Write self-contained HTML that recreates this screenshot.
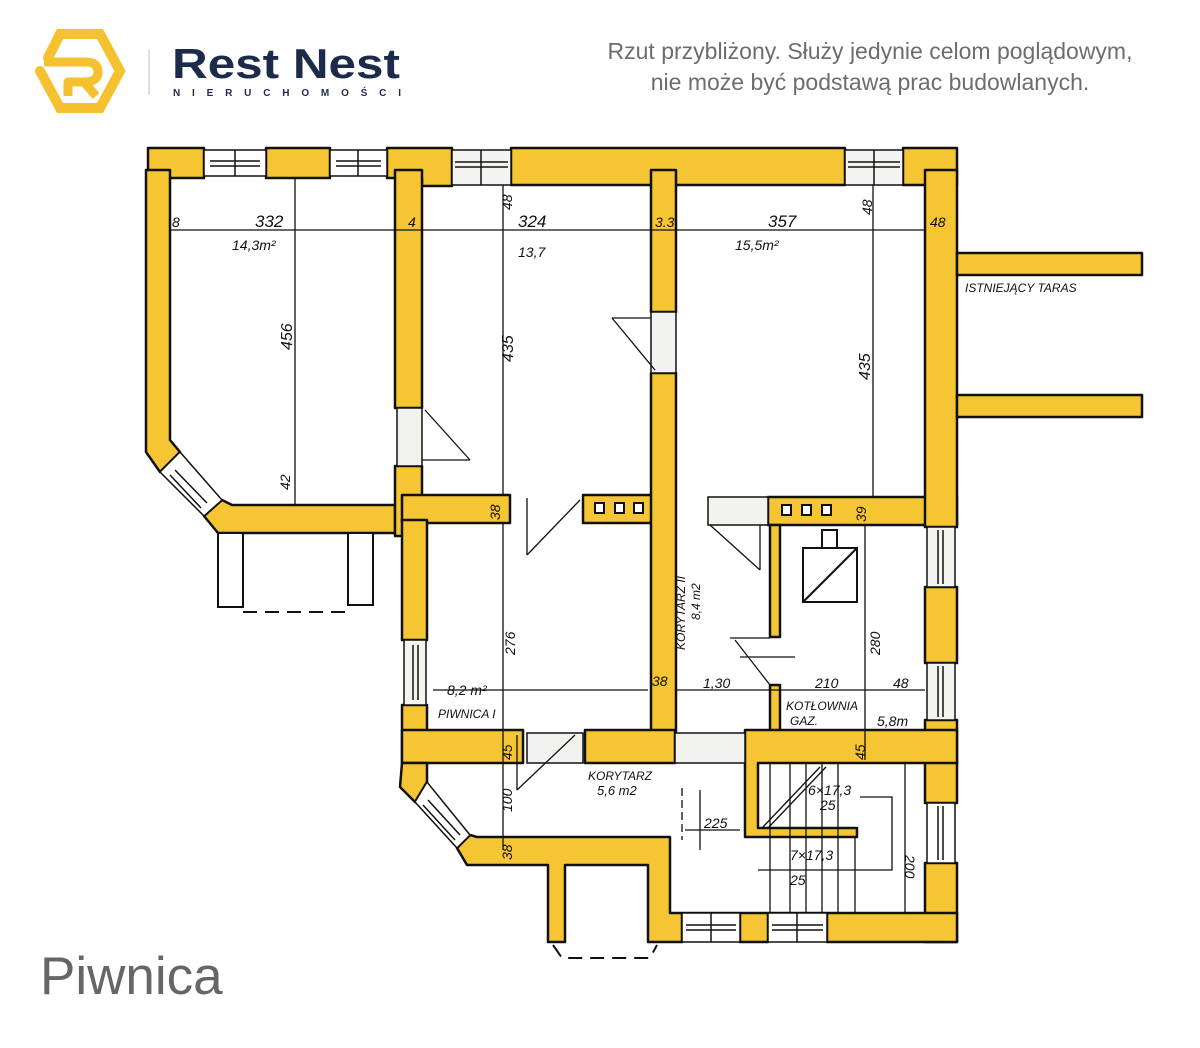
<!DOCTYPE html>
<html><head><meta charset="utf-8">
<style>
html,body{margin:0;padding:0;background:#fff;}
body{width:1200px;height:1048px;position:relative;overflow:hidden;font-family:"Liberation Sans",sans-serif;}
.note{position:absolute;left:560px;top:36px;width:620px;text-align:center;color:#6d6d6d;font-size:23px;line-height:31px;}
.title{position:absolute;left:40px;top:946px;font-size:53px;color:#666;}
</style></head><body>
<div class="note">Rzut przybliżony. Służy jedynie celom poglądowym,<br>nie może być podstawą prac budowlanych.</div>
<div class="title">Piwnica</div>
<svg width="1200" height="1048" style="position:absolute;left:0;top:0" xmlns="http://www.w3.org/2000/svg">
<!-- logo -->
<g fill="none" stroke="#F6C12E" stroke-width="10" stroke-linecap="round">
<polyline points="48,58 60,34 100,34 120,71 100,108 60,108 40,71"/>
</g>
<g fill="none" stroke="#F6C12E" stroke-width="9" stroke-linejoin="round">
<path d="M44,62 H86 Q98,62 98,72 Q98,82 84,82 H68 V96 M84,82 L96,96"/>
</g>
<line x1="149" y1="50" x2="149" y2="95" stroke="#ddd" stroke-width="2"/>
<text x="172" y="78" font-family="Liberation Sans,sans-serif" font-weight="bold" font-size="42" fill="#1D2B4B" textLength="228" lengthAdjust="spacingAndGlyphs">Rest Nest</text>
<text x="173" y="96" font-family="Liberation Sans,sans-serif" font-weight="bold" font-size="10" fill="#1D2B4B" textLength="228">NIERUCHOMOŚCI</text>

<g fill="#F6C533" stroke="#111" stroke-width="2.5" stroke-linejoin="round">
<rect x="148" y="148" width="56" height="30"/>
<rect x="266" y="148" width="64" height="30"/>
<polygon points="387,148 452,148 452,186 422,186 422,178 387,178"/>
<polygon points="511,148 845,148 845,185 511,185"/>
<polygon points="903,148 957,148 957,185 903,185"/>
<polygon points="146,170 170,170 170,440 180,452 160,472 146,452"/>
<polygon points="222,500 232,505 395,505 395,533 218,533 204,516"/>
<rect x="395" y="170" width="27" height="238"/>
<rect x="395" y="466" width="27" height="70"/>
<rect x="402" y="495" width="108" height="28"/>
<rect x="402" y="520" width="25" height="120"/>
<rect x="583" y="495" width="70" height="28"/>
<rect x="651" y="170" width="25" height="142"/>
<rect x="651" y="373" width="25" height="360"/>
<rect x="768" y="497" width="189" height="28"/>
<rect x="925" y="170" width="32" height="357"/>
<rect x="925" y="587" width="32" height="76"/>
<rect x="925" y="720" width="32" height="83"/>
<rect x="925" y="863" width="32" height="79"/>
<rect x="957" y="253" width="185" height="22"/>
<rect x="957" y="395" width="185" height="22"/>
<rect x="402" y="705" width="25" height="58"/>
<rect x="402" y="730" width="121" height="33"/>
<rect x="585" y="730" width="90" height="33"/>
<rect x="770" y="525" width="10" height="112"/>
<rect x="770" y="685" width="10" height="50"/>
<polygon points="745,730 957,730 957,763 758,763 758,828 857,828 857,837 745,837"/>
<polygon points="402,763 427,763 427,782 415,802 400,787"/>
<polygon points="470,835 477,837 670,837 670,913 957,913 957,942 827,942 827,913 768,913 768,942 740,942 740,913 682,913 682,942 648,942 648,865 565,865 565,942 548,942 548,865 467,865 457,848"/>
</g>
<g fill="#fff" stroke="#111" stroke-width="1.5">
<rect x="204" y="150" width="62" height="26"/><line x1="210" y1="161" x2="260" y2="161"/><line x1="210" y1="166" x2="260" y2="166"/><line x1="235" y1="150" x2="235" y2="176"/>
<rect x="330" y="150" width="57" height="26"/><line x1="336" y1="161" x2="381" y2="161"/><line x1="336" y1="166" x2="381" y2="166"/><line x1="358" y1="150" x2="358" y2="176"/>
<rect x="452" y="150" width="59" height="35" fill="#f4f4f0"/><line x1="455" y1="162" x2="508" y2="162"/><line x1="455" y1="167" x2="508" y2="167"/><line x1="481" y1="150" x2="481" y2="185"/>
<rect x="845" y="150" width="58" height="35" fill="#f4f4f0"/><line x1="848" y1="162" x2="900" y2="162"/><line x1="848" y1="167" x2="900" y2="167"/><line x1="874" y1="150" x2="874" y2="185"/>
<polygon points="160,472 180,452 222,500 204,516"/>
<line x1="175" y1="470" x2="207" y2="503"/><line x1="170" y1="475" x2="201" y2="508"/>
<polygon points="415,802 427,782 470,835 457,848"/>
<line x1="428" y1="800" x2="460" y2="835"/><line x1="423" y1="805" x2="455" y2="840"/>
<rect x="927" y="527" width="28" height="60" fill="#f4f4f0"/><line x1="938" y1="530" x2="938" y2="584"/><line x1="943" y1="530" x2="943" y2="584"/>
<rect x="927" y="663" width="28" height="57" fill="#f4f4f0"/><line x1="938" y1="666" x2="938" y2="717"/><line x1="943" y1="666" x2="943" y2="717"/>
<rect x="927" y="803" width="28" height="60"/><line x1="938" y1="806" x2="938" y2="860"/><line x1="943" y1="806" x2="943" y2="860"/>
<rect x="404" y="640" width="22" height="65" fill="#f4f4f0"/><line x1="413" y1="645" x2="413" y2="700"/><line x1="418" y1="645" x2="418" y2="700"/>
<rect x="682" y="913" width="58" height="29"/><line x1="686" y1="925" x2="736" y2="925"/><line x1="686" y1="930" x2="736" y2="930"/><line x1="711" y1="913" x2="711" y2="942"/>
<rect x="768" y="913" width="59" height="29"/><line x1="772" y1="925" x2="823" y2="925"/><line x1="772" y1="930" x2="823" y2="930"/><line x1="797" y1="913" x2="797" y2="942"/>
<rect x="397" y="408" width="25" height="58" fill="#f2f2ee"/>
<rect x="651" y="312" width="25" height="61" fill="#f2f2ee"/>
<rect x="708" y="497" width="60" height="28" fill="#f2f2ee"/>
<rect x="675" y="733" width="70" height="30" fill="#f2f2ee"/>
<rect x="527" y="733" width="56" height="30" fill="#f2f2ee"/>
</g>
<g fill="#fff" stroke="#111" stroke-width="2">
<rect x="218" y="533" width="25" height="74"/>
<rect x="348" y="533" width="25" height="72"/>
</g>
<g fill="none" stroke="#111" stroke-width="2" stroke-dasharray="14,8">
<line x1="243" y1="612" x2="348" y2="612"/>
<polyline points="553,945 562,958 650,958 657,945"/>
</g>
<g fill="#fff" stroke="#111" stroke-width="2">
<rect x="595" y="503" width="9" height="10"/><rect x="615" y="503" width="9" height="10"/><rect x="634" y="503" width="9" height="10"/>
<rect x="782" y="505" width="9" height="10"/><rect x="802" y="505" width="9" height="10"/><rect x="822" y="505" width="9" height="10"/>
<rect x="803" y="548" width="54" height="54"/><line x1="803" y1="602" x2="857" y2="548"/>
<rect x="822" y="530" width="15" height="18"/>
</g>
<g stroke="#111" stroke-width="1.3" fill="none">
<line x1="170" y1="230" x2="925" y2="230"/>
<line x1="295" y1="178" x2="295" y2="505"/>
<line x1="503" y1="185" x2="503" y2="495"/>
<line x1="873" y1="185" x2="873" y2="497"/>
<line x1="503" y1="523" x2="503" y2="850"/>
<line x1="675" y1="690" x2="925" y2="690"/>
<line x1="433" y1="690" x2="648" y2="690"/>
<line x1="865" y1="525" x2="865" y2="760"/>
<line x1="612" y1="318" x2="651" y2="318"/><line x1="612" y1="318" x2="655" y2="370"/>
<line x1="422" y1="460" x2="470" y2="460"/><line x1="425" y1="410" x2="470" y2="460"/>
<line x1="527" y1="498" x2="527" y2="555"/><line x1="527" y1="555" x2="580" y2="500"/>
<line x1="760" y1="525" x2="760" y2="570"/><line x1="710" y1="525" x2="760" y2="570"/>
<line x1="730" y1="638" x2="770" y2="638"/><line x1="735" y1="640" x2="770" y2="685"/><line x1="740" y1="657" x2="795" y2="657"/>
<line x1="517" y1="735" x2="517" y2="790"/><line x1="517" y1="790" x2="575" y2="735"/>
<line x1="682" y1="788" x2="682" y2="840" stroke-dasharray="8,4"/>
<line x1="700" y1="790" x2="700" y2="850"/><line x1="685" y1="830" x2="740" y2="830"/>
<line x1="770" y1="763" x2="770" y2="913"/><line x1="790" y1="763" x2="790" y2="913"/><line x1="806" y1="763" x2="806" y2="913"/><line x1="822" y1="763" x2="822" y2="913"/><line x1="838" y1="763" x2="838" y2="913"/><line x1="855" y1="837" x2="855" y2="913"/><line x1="905" y1="763" x2="905" y2="913"/>
<line x1="762" y1="828" x2="820" y2="767"/><line x1="768" y1="828" x2="826" y2="767"/>
<polyline points="860,797 892,797 892,870 758,870"/>
</g>
<g font-family="Liberation Sans,sans-serif" font-style="italic" font-size="14" fill="#111">
<text x="172" y="227">8</text><text x="255" y="227" font-size="17">332</text><text x="408" y="227">4</text>
<text x="518" y="227" font-size="17">324</text><text x="655" y="227">3.3</text><text x="768" y="227" font-size="17">357</text><text x="930" y="227">48</text>
<text x="232" y="250">14,3m²</text><text x="518" y="257">13,7</text><text x="735" y="250">15,5m²</text>
<text x="965" y="292" font-size="12">ISTNIEJĄCY TARAS</text>
<text x="292" y="350" transform="rotate(-90 292 350)" font-size="16">456</text>
<text x="513" y="362" transform="rotate(-90 513 362)" font-size="16">435</text>
<text x="870" y="380" transform="rotate(-90 870 380)" font-size="16">435</text>
<text x="290" y="490" transform="rotate(-90 290 490)">42</text>
<text x="512" y="210" transform="rotate(-90 512 210)">48</text>
<text x="872" y="215" transform="rotate(-90 872 215)">48</text>
<text x="500" y="520" transform="rotate(-90 500 520)">38</text>
<text x="866" y="522" transform="rotate(-90 866 522)">39</text>
<text x="515" y="655" transform="rotate(-90 515 655)">276</text>
<text x="685" y="650" transform="rotate(-90 685 650)" font-size="12">KORYTARZ II</text>
<text x="700" y="620" transform="rotate(-90 700 620)" font-size="12">8,4 m2</text>
<text x="880" y="655" transform="rotate(-90 880 655)">280</text>
<text x="447" y="695">8,2 m²</text><text x="438" y="718" font-size="12">PIWNICA  I</text>
<text x="652" y="686">38</text><text x="703" y="688">1,30</text><text x="815" y="688">210</text><text x="893" y="688">48</text>
<text x="786" y="710" font-size="12">KOTŁOWNIA</text><text x="790" y="725" font-size="12">GAZ.</text><text x="877" y="726">5,8m</text>
<text x="512" y="760" transform="rotate(-90 512 760)">45</text>
<text x="865" y="760" transform="rotate(-90 865 760)">45</text>
<text x="588" y="780" font-size="12">KORYTARZ</text><text x="597" y="795" font-size="13">5,6 m2</text>
<text x="512" y="812" transform="rotate(-90 512 812)">100</text>
<text x="704" y="828">225</text>
<text x="808" y="795">6×17,3</text><text x="820" y="810">25</text>
<text x="790" y="860">7×17,3</text><text x="790" y="885">25</text>
<text x="905" y="855" transform="rotate(90 905 855)">200</text>
<text x="512" y="860" transform="rotate(-90 512 860)">38</text>
</g>
</svg>
</body></html>
